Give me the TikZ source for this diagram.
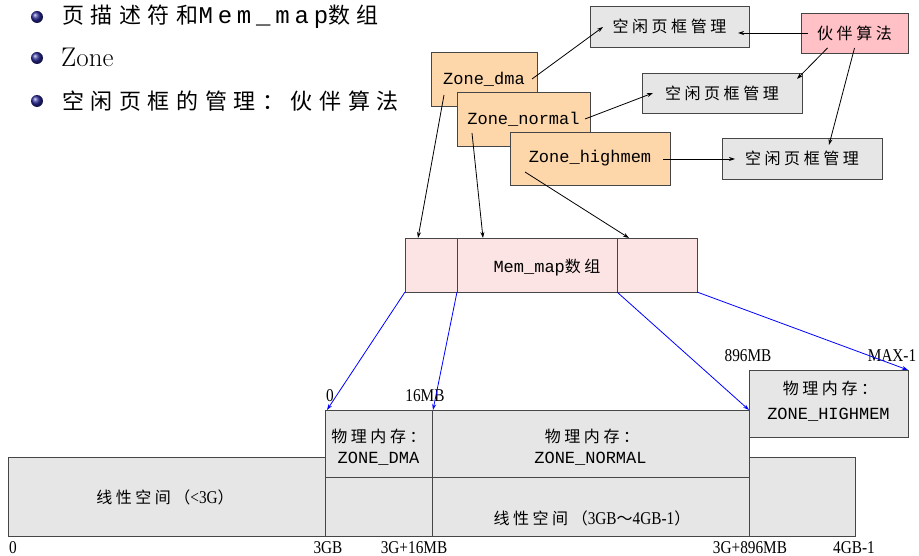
\documentclass[tikz,border=0pt]{standalone}
\usepackage{fontspec}
\usetikzlibrary{arrows.meta,calc}
\newfontfamily\cjk[LetterSpace=30]{Noto Sans CJK SC}
\newfontfamily\cjkb[LetterSpace=22]{Noto Sans CJK SC}
\newfontfamily\monof{Liberation Mono}
\newfontfamily\numf[FakeStretch=0.85]{Liberation Serif}
\definecolor{boxgray}{RGB}{230,230,230}
\definecolor{zonefill}{RGB}{253,214,170}
\definecolor{buddyfill}{RGB}{255,192,198}
\definecolor{memfill}{RGB}{253,228,228}
\definecolor{edgec}{RGB}{70,70,70}
\definecolor{bulletc}{RGB}{40,40,150}
\newcommand{\bt}{\fontsize{16}{24}\selectfont\cjkb}
\newcommand{\mt}{\fontsize{17}{24}\selectfont}
\begin{document}
\begin{tikzpicture}[x=1pt,y=-1pt,
  bx/.style={draw=edgec,line width=0.8pt,inner sep=0pt,outer sep=0pt,anchor=center},
  graybox/.style={bx,fill=boxgray},
  zonebox/.style={bx,fill=zonefill},
  buddybox/.style={bx,fill=buddyfill},
  membox/.style={bx,fill=memfill},
  arr/.style={-{Stealth[length=6pt,width=4pt]},line width=0.8pt,black},
  barr/.style={-{Stealth[length=6pt,width=4pt]},line width=0.8pt,blue},
  lab/.style={inner sep=0pt,font=\numf\fontsize{18}{20}\selectfont},
  txt/.style={inner sep=0pt},
  btext/.style={anchor=west,inner sep=0pt}]
\useasboundingbox (0,0) rectangle (919,556);
% bullets
\shade[ball color=bulletc] (37,17) circle (6);
\shade[ball color=bulletc] (37,58) circle (6);
\shade[ball color=bulletc] (37,101) circle (6);
\node[btext] (b1) at (62,17) {\fontsize{22}{26}\selectfont\cjk 页描述符和{\monof\addfontfeature{LetterSpace=20}\fontsize{24}{26}\selectfont Mem\_map}数组};
\node[btext] (b2) at (61,57) {\fontsize{27}{30}\selectfont Zone};
\node[btext] (b3) at (62,101) {\fontsize{22}{26}\selectfont\cjk 空闲页框的管理：伙伴算法};
% top boxes
\node[graybox,minimum width=159,minimum height=41] (free1) at (669.5,26.5) {\bt 空闲页框管理};
\node[buddybox,minimum width=107,minimum height=40] (buddy) at (854.5,33) {\bt 伙伴算法};
\node[graybox,minimum width=160,minimum height=40] (free2) at (722,93) {\bt 空闲页框管理};
\node[graybox,minimum width=160,minimum height=41] (free3) at (802,158.5) {\bt 空闲页框管理};
\node[zonebox,minimum width=106,minimum height=54] (zdma) at (484,79) {\mt\monof Zone\_dma};
\node[zonebox,minimum width=133,minimum height=54] (znorm) at (523.5,119) {\mt\monof Zone\_normal};
\node[zonebox,minimum width=160,minimum height=53] (zhigh) at (590,158.5) {\mt\monof Zone\_highmem};
% mem map
\node[membox,minimum width=52,minimum height=54] (mem1) at (431,265) {};
\node[membox,minimum width=160,minimum height=54] (mem2) at (537,265) {};
\node[membox,minimum width=80,minimum height=54] (mem3) at (657,265) {};
\node[txt] (memt) at (547,268) {\mt\monof Mem\_map{\bt 数组}};
% linear spaces
\node[graybox,minimum width=317,minimum height=79] (lin1) at (166.5,496.5) {};
\node[txt] (lin1t) at (165,497) {\bt 线性空间（{\numf\fontsize{18}{20}\selectfont <3G}）};
\node[graybox,minimum width=530,minimum height=79] (lin2) at (590,496.5) {};
\draw[edgec,line width=0.8pt] (432,477) -- (432,536);
\draw[edgec,line width=0.8pt] (749,477) -- (749,536);
\node[txt] (lin2t) at (592,518) {\bt 线性空间（{\numf\fontsize{18}{20}\selectfont 3GB}～{\numf\fontsize{18}{20}\selectfont 4GB-1}）};
% physical
\node[graybox,minimum width=107,minimum height=67] (pdma) at (378.5,443.5) {};
\node[graybox,minimum width=317,minimum height=67] (pnorm) at (590.5,443.5) {};
\node[graybox,minimum width=159,minimum height=67] (phigh) at (828.5,403.5) {};
\node[txt] (pdma1) at (378.5,436) {\bt 物理内存：};
\node[txt] (pdma2) at (378.5,459) {\mt\monof ZONE\_DMA};
\node[txt] (pnorm1) at (592,436) {\bt 物理内存：};
\node[txt] (pnorm2) at (590.5,459) {\mt\monof ZONE\_NORMAL};
\node[txt] (phigh1) at (830,388) {\bt 物理内存：};
\node[txt] (phigh2) at (828.5,415) {\mt\monof ZONE\_HIGHMEM};
% labels
\node[lab] (l0) at (330,396) {0};
\node[lab] (l16) at (425,396) {16MB};
\node[lab] (l896) at (748,356) {896MB};
\node[lab] (lmax) at (892,356) {MAX-1};
\node[lab] (b0) at (13,548) {0};
\node[lab] (b3g) at (328,548) {3GB};
\node[lab] (b316) at (414,548) {3G+16MB};
\node[lab] (b3896) at (750,548) {3G+896MB};
\node[lab] (b4g) at (854,548) {4GB-1};
% black arrows
\draw[arr] ($(zdma.east)+(-5,0)$) -- ($(free1.west)+(13,0.5)$);
\draw[arr] ($(buddy.west)+(7,0)$) -- ($(free1.east)+(-11,6.5)$);
\draw[arr] ($(buddy.south)+(-27,-5)$) -- ($(free2.north east)+(-5,6)$);
\draw[arr] ($(buddy.south)+(0,-5)$) -- ($(free3.north east)+(-53,7)$);
\draw[arr] ($(znorm.east)+(-5,0)$) -- ($(free2.west)+(11,0)$);
\draw[arr] ($(zhigh.east)+(-7,0.5)$) -- ($(free3.west)+(13,0.5)$);
\draw[arr] ($(zdma.south west)+(13,-11)$) -- ($(mem1.north west)+(13,0)$);
\draw[arr] ($(znorm.south west)+(15,-13)$) -- ($(mem2.north west)+(26,0)$);
\draw[arr] ($(zhigh.south west)+(15,-13)$) -- ($(mem3.north west)+(12,0)$);
% blue arrows
\draw[barr] (mem1.south west) -- ($(pdma.north west)+(2,0)$);
\draw[barr] (mem2.south west) -- ($(pnorm.north west)+(1,0)$);
\draw[barr] (mem3.south west) -- (pnorm.north east);
\draw[barr] (mem3.south east) -- (phigh.north east);
\end{tikzpicture}
\end{document}
